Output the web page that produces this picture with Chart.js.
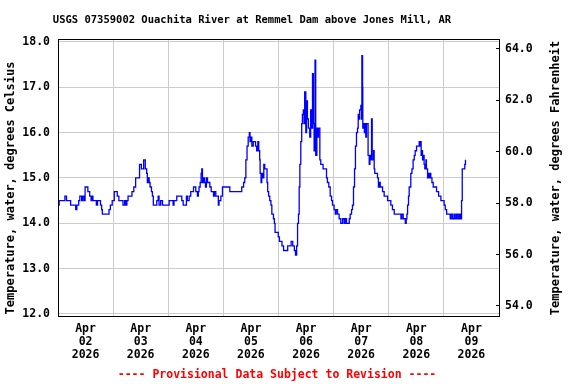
<!DOCTYPE html>
<html lang="en">
<head>
<meta charset="UTF-8">
<title>USGS 07359002 Ouachita River at Remmel Dam above Jones Mill, AR</title>
<script src="https://cdn.jsdelivr.net/npm/chart.js"></script>
<style>
  body { margin: 0; background: #fff; }
</style>
</head>
<body>
<canvas id="tempChart" width="576" height="384"></canvas>
<script>
// hours since Apr 02 2026 00:00, and water temperature (deg C)
const hours = [
  0, 0.5, 3, 3.7, 5.5, 7.7, 8.2, 9, 9.5, 10.3, 10.7, 11.3, 11.8, 13, 13.8, 14.4, 14.8, 15.2, 16.7, 17.2,
  18.5, 19, 19.3, 22.2, 22.8, 23.6, 24.5, 25.8, 26.5, 28.3, 29, 29.5, 30, 30.5, 32.2, 33, 33.8, 35.5, 36.3, 37.3,
  38, 38.6, 38.9, 39.4, 39.7, 40.1, 40.7, 41.1, 41.5, 43, 43.6, 44, 44.7, 45.5, 48.4, 50.1, 50.5, 51.7, 53.9, 54.5,
  55.9, 56.3, 57.1, 57.8, 59, 60, 60.7, 61.1, 61.4, 61.9, 62.3, 62.6, 62.9, 63.3, 63.8, 64.2, 64.6, 65.1, 66.1, 66.7,
  67.7, 68.1, 68.7, 69.8, 70.1, 70.9, 71.6, 74.8, 80, 80.8, 81.3, 81.8, 82.3, 82.8, 83.3, 83.6, 84, 84.4, 85, 86,
  86.5, 87, 87.4, 87.8, 88, 88.4, 88.7, 89.2, 89.6, 90, 91, 91.3, 91.7, 92.2, 92.7, 93.1, 93.8, 94.2, 94.5, 95.9,
  96.4, 97.5, 98.2, 100, 101.5, 102.2, 102.9, 103.4, 103.9, 104.3, 104.7, 105, 105.3, 105.7, 106.1, 106.4, 106.8, 107.1, 107.4, 107.9,
  108.2, 108.6, 109, 109.6, 110, 110.5, 110.8, 111.2, 111.5, 111.9, 112.2, 112.7, 113, 113.4, 114, 114.4, 115.4, 116.9, 117.3, 117.9,
  118.5, 119.1, 119.5, 120.2, 120.7, 121.1, 121.7, 122.4, 123.1, 123.9, 124.6, 125, 125.6, 126.8, 127.2, 127.8, 128.2, 128.65, 129.1, 129.5,
  129.95, 130.4, 130.7, 131, 131.3, 131.85, 132.1, 132.3, 132.6, 132.7, 133, 133.4, 133.7, 134, 134.3, 135, 135.5, 135.8, 136.2, 136.5,
  136.8, 137.1, 137.4, 137.65, 137.9, 139.1, 139.5, 139.8, 140.3, 141.3, 142, 143.5, 144.9, 145.6, 146.4, 149.3, 149.7, 150.3, 151.2, 151.6,
  151.9, 152.2, 152.6, 152.9, 153.6, 154.1, 154.6, 155.1, 155.5, 156.1, 157.25, 157.5, 157.8, 158.1, 158.4, 158.7, 159, 159.4, 159.7, 160.2,
  160.4, 160.9, 161.3, 161.6, 162, 162.3, 162.8, 163.35, 164.8, 165.7, 166.7, 168.1, 168.6, 169.2, 170.75, 171.2, 171.8, 172.5, 172.9, 173.5,
  174.1, 174.7, 175.25, 175.7, 176, 177.1, 177.4
];
const tempC = [
  14.4, 14.5, 14.6, 14.5, 14.4, 14.3, 14.4, 14.5, 14.6, 14.5, 14.6, 14.5, 14.8, 14.7, 14.6, 14.5, 14.6, 14.5, 14.4, 14.5,
  14.4, 14.3, 14.2, 14.3, 14.4, 14.5, 14.7, 14.6, 14.5, 14.4, 14.5, 14.4, 14.5, 14.6, 14.7, 14.8, 15.0, 15.3, 15.2, 15.4,
  15.2, 15.1, 14.9, 15.0, 14.9, 14.8, 14.7, 14.6, 14.4, 14.5, 14.6, 14.4, 14.5, 14.4, 14.5, 14.4, 14.5, 14.6, 14.5, 14.4,
  14.6, 14.5, 14.6, 14.7, 14.8, 14.7, 14.6, 14.7, 14.8, 14.9, 15.1, 15.2, 14.9, 15.0, 14.9, 14.8, 15.0, 14.9, 14.8, 14.7,
  14.6, 14.7, 14.6, 14.4, 14.5, 14.6, 14.8, 14.7, 14.8, 14.9, 15.0, 15.4, 15.7, 15.9, 16.0, 15.8, 15.9, 15.7, 15.8, 15.7,
  15.6, 15.8, 15.6, 15.4, 15.1, 14.9, 15.1, 15.0, 15.3, 15.2, 14.9, 14.7, 14.6, 14.5, 14.4, 14.2, 14.1, 14.0, 13.8, 13.7,
  13.6, 13.5, 13.4, 13.5, 13.6, 13.5, 13.4, 13.3, 13.5, 14.0, 14.2, 14.8, 15.3, 15.8, 16.2, 16.4, 16.5, 16.2, 16.9, 16.0,
  16.7, 16.3, 16.1, 15.9, 16.5, 16.1, 17.3, 16.2, 15.6, 17.6, 15.5, 16.1, 15.9, 16.1, 15.4, 15.3, 15.2, 15.0, 14.9, 14.8,
  14.6, 14.5, 14.4, 14.3, 14.2, 14.3, 14.2, 14.1, 14.0, 14.1, 14.0, 14.1, 14.0, 14.1, 14.2, 14.3, 14.4, 14.8, 15.2, 15.7,
  16.0, 16.1, 16.4, 16.3, 16.5, 16.6, 16.3, 17.7, 17.0, 16.1, 16.2, 16.0, 16.2, 15.9, 16.2, 15.5, 15.3, 15.5, 15.4, 16.3,
  15.5, 15.4, 15.6, 15.2, 15.1, 15.0, 14.8, 14.9, 14.8, 14.7, 14.6, 14.5, 14.4, 14.3, 14.2, 14.1, 14.2, 14.1, 14.0, 14.1,
  14.2, 14.4, 14.6, 14.8, 15.1, 15.2, 15.4, 15.5, 15.6, 15.7, 15.8, 15.7, 15.8, 15.5, 15.6, 15.4, 15.5, 15.3, 15.2, 15.4,
  15.2, 15.0, 15.1, 15.0, 15.1, 15.0, 14.9, 14.8, 14.7, 14.6, 14.5, 14.4, 14.3, 14.2, 14.1, 14.2, 14.1, 14.2, 14.1, 14.2,
  14.1, 14.2, 14.1, 14.5, 15.2, 15.3, 15.4
];

const xTicks = [0, 12, 24, 36, 48, 60, 72, 84, 96, 108, 120, 132, 144, 156, 168, 180, 192];
const dayLabels = [
  ["Apr", "02", "2026"], ["Apr", "03", "2026"], ["Apr", "04", "2026"], ["Apr", "05", "2026"],
  ["Apr", "06", "2026"], ["Apr", "07", "2026"], ["Apr", "08", "2026"], ["Apr", "09", "2026"]
];
const celsiusTicks = [12, 13, 14, 15, 16, 17, 18];
const fahrenheitTicks = [54, 56, 58, 60, 62, 64];

const titleText = "USGS 07359002 Ouachita River at Remmel Dam above Jones Mill, AR";
const leftTitle = "Temperature, water, degrees Celsius";
const rightTitle = "Temperature, water, degrees Fahrenheit";
const footerText = "---- Provisional Data Subject to Revision ----";

const MONO = '"DejaVu Sans Mono", "Liberation Mono", monospace';
const tickFont = { family: MONO, size: 11.5, weight: 'bold' };

// frame round the plot plus the title, axis titles and footer
const annotate = {
  id: 'annotate',
  afterDraw(chart) {
    const { ctx, chartArea: a } = chart;
    ctx.save();
    ctx.strokeStyle = '#000';
    ctx.lineWidth = 1;
    ctx.strokeRect(a.left + 0.5, a.top + 0.5, a.right - a.left, a.bottom - a.top);

    ctx.fillStyle = '#000';
    ctx.textAlign = 'center';
    ctx.textBaseline = 'middle';
    ctx.font = 'bold 10.5px ' + MONO;
    ctx.fillText(titleText, 252, 20);

    ctx.font = 'bold 12px ' + MONO;
    ctx.save();
    ctx.translate(11, 188);
    ctx.rotate(-Math.PI / 2);
    ctx.fillText(leftTitle, 0, 0);
    ctx.restore();
    ctx.save();
    ctx.translate(556, 178);
    ctx.rotate(-Math.PI / 2);
    ctx.fillText(rightTitle, 0, 0);
    ctx.restore();

    ctx.fillStyle = '#ff0000';
    ctx.font = 'bold 11.5px ' + MONO;
    ctx.fillText(footerText, 277, 375);
    ctx.restore();
  }
};

const ctx = document.getElementById('tempChart').getContext('2d');
new Chart(ctx, {
  type: 'line',
  data: {
    datasets: [{
      data: hours.map((h, i) => ({ x: h, y: tempC[i] })),
      borderColor: '#0000ff',
      borderWidth: 1.3,
      pointRadius: 0,
      stepped: true,
      yAxisID: 'y'
    }]
  },
  options: {
    responsive: false,
    animation: false,
    layout: { padding: { top: 39 } },
    plugins: { legend: { display: false }, tooltip: { enabled: false } },
    scales: {
      x: {
        type: 'linear',
        min: 0,
        max: 192,
        afterBuildTicks: s => { s.ticks = xTicks.map(v => ({ value: v })); },
        afterFit: s => { s.height = 68; },
        border: { display: false },
        grid: {
          drawTicks: false,
          color: c => (c.tick && c.tick.value % 24 === 0) ? '#cccccc' : 'rgba(0,0,0,0)'
        },
        ticks: {
          autoSkip: false,
          maxRotation: 0,
          padding: 7,
          color: '#000',
          font: { ...tickFont, lineHeight: '13px' },
          callback: v => v % 24 === 12 ? dayLabels[(v - 12) / 24] : ''
        }
      },
      y: {
        position: 'left',
        min: 11.955,
        max: 18.065,
        afterBuildTicks: s => { s.ticks = celsiusTicks.map(v => ({ value: v })); },
        afterFit: s => { s.width = 58; },
        border: { display: false },
        grid: { drawTicks: false, color: '#cccccc' },
        ticks: { padding: 8, color: '#000', font: tickFont, callback: v => v.toFixed(1) }
      },
      y1: {
        position: 'right',
        min: 53.61,
        max: 64.38,
        afterBuildTicks: s => { s.ticks = fahrenheitTicks.map(v => ({ value: v })); },
        afterFit: s => { s.width = 77; },
        border: { display: false },
        grid: { drawOnChartArea: false, tickLength: -3, tickColor: '#000' },
        ticks: { padding: 9, color: '#000', font: tickFont, callback: v => v.toFixed(1) }
      }
    }
  },
  plugins: [annotate]
});
</script>
</body>
</html>
